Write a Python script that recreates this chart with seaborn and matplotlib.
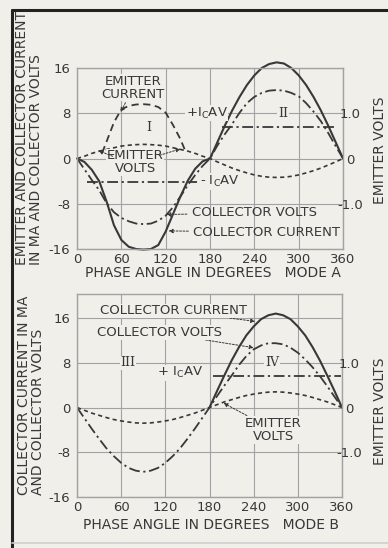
import seaborn as sns
import matplotlib.pyplot as plt
from matplotlib.lines import Line2D

# --- Phase angle samples (degrees) ---
phase = [0, 10, 20, 30, 40, 50, 60, 70, 80, 90, 100, 110, 120, 130, 140, 150, 160, 170, 180,
         190, 200, 210, 220, 230, 240, 250, 260, 270, 280, 290, 300, 310, 320, 330, 340, 350, 360]
phase_second_half = [180, 190, 200, 210, 220, 230, 240, 250, 260, 270, 280, 290, 300, 310, 320, 330, 340, 350, 360]

# --- Mode A ---
coll_current_a = [0, -0.6, -2.0, -4.0, -7.6, -11.8, -14.4, -15.6, -16.0, -16.1, -16.0, -15.3, -12.9, -9.8, -6.7, -3.9, -1.8, -0.5, 0,
                  2.9, 5.8, 8.5, 10.9, 13.0, 14.7, 16.0, 16.7, 17.0, 16.8, 16.0, 14.7, 13.0, 10.9, 8.5, 5.8, 2.9, 0]
coll_volts_a = [0, -1.9, -3.8, -5.6, -7.9, -9.5, -10.5, -11.1, -11.5, -11.6, -11.5, -11.0, -10.1, -8.6, -6.7, -4.7, -2.9, -1.3, 0,
                2.3, 4.3, 6.1, 8.1, 9.8, 10.9, 11.6, 12.0, 12.1, 12.0, 11.6, 11.0, 9.8, 8.3, 6.6, 4.5, 2.2, 0]
emit_volts_a = [0, 0.4, 0.9, 1.3, 1.6, 1.9, 2.2, 2.35, 2.45, 2.5, 2.45, 2.35, 2.2, 1.9, 1.6, 1.3, 0.9, 0.4, 0,
                -0.6, -1.15, -1.7, -2.15, -2.55, -2.9, -3.15, -3.3, -3.35, -3.3, -3.15, -2.9, -2.55, -2.15, -1.7, -1.15, -0.6, 0]
emit_current_phase_a = [34, 40, 50, 60, 70, 80, 90, 100, 110, 120, 130, 140, 147]
emit_current_a = [1.0, 3.0, 6.4, 8.7, 9.3, 9.55, 9.6, 9.5, 9.1, 8.1, 5.9, 3.4, 1.2]
ic_av_pos_span_a = [196, 352]
ic_av_pos_a = 5.6
ic_av_neg_span_a = [13, 163]
ic_av_neg_a = -4.1

# --- Mode B ---
coll_current_b = [0, 2.9, 5.7, 8.4, 10.8, 12.9, 14.5, 15.8, 16.5, 16.8, 16.5, 15.8, 14.5, 12.9, 10.8, 8.4, 5.7, 2.9, 0]
coll_volts_b = [0, -1.9, -3.8, -5.6, -7.3, -8.7, -9.9, -10.8, -11.3, -11.5, -11.3, -10.8, -9.9, -8.7, -7.3, -5.6, -3.8, -1.9, 0,
                2.0, 3.9, 5.7, 7.6, 9.2, 10.4, 11.1, 11.5, 11.5, 11.3, 10.7, 9.8, 8.6, 7.2, 5.6, 3.8, 1.9, 0]
emit_volts_b = [0, -0.5, -1.0, -1.4, -1.8, -2.15, -2.4, -2.6, -2.75, -2.8, -2.75, -2.6, -2.4, -2.15, -1.8, -1.4, -1.0, -0.5, 0,
                0.5, 1.0, 1.4, 1.8, 2.15, 2.4, 2.6, 2.75, 2.8, 2.75, 2.6, 2.4, 2.15, 1.8, 1.4, 1.0, 0.5, 0]
ic_av_pos_span_b = [185, 358]
ic_av_pos_b = 5.6

# --- Axis ticks ---
x_ticks = [0, 60, 120, 180, 240, 300, 360]
y_ticks = [-16, -8, 0, 8, 16]
volt_ticks = [-1.0, 0, 1.0]
volt_tick_labels = ["-1.0", "0", "1.0"]

# --- Style ---
sns.set_theme(style="whitegrid")
plt.rcParams['font.family'] = ['DejaVu Sans']
bg = '#f0efea'
ink = '#383838'
grid_c = '#a2a2a2'
solid = dict(color=ink, lw=1.5)
dashdot = dict(color=ink, lw=1.3, linestyle=(0, (6, 2, 1.2, 2)))
dash_long = dict(color=ink, lw=1.3, linestyle=(0, (4, 2.5)))
dash_short = dict(color=ink, lw=1.2, linestyle=(0, (2.5, 2)))
txt_box = dict(facecolor=bg, edgecolor='none', pad=0.5)
arrow = dict(arrowstyle='-|>', color=ink, lw=0.7, ls=(0, (2, 1.5)), shrinkA=1, shrinkB=0, mutation_scale=6)

fig = plt.figure(figsize=(3.88, 5.48), dpi=100, facecolor=bg)
ax_a = fig.add_axes([0.1985, 0.5456, 0.6856, 0.3303])
ax_b = fig.add_axes([0.1985, 0.0931, 0.683, 0.3704])


def style_axes(ax, ylim):
    ax.set_facecolor(bg)
    ax.set_xlim(0, 360)
    ax.set_ylim(*ylim)
    ax.set_xticks(x_ticks)
    ax.set_yticks(y_ticks)
    ax.set_yticklabels([str(v) for v in y_ticks])
    ax.grid(True, color=grid_c, lw=0.8)
    for sp in ax.spines.values():
        sp.set_color(grid_c)
        sp.set_linewidth(1.0)
    ax.tick_params(length=0, labelsize=9.5, colors=ink)
    ax.tick_params(axis='x', pad=3)
    ax.tick_params(axis='y', pad=5)
    ax.set_xlabel('')
    ax.set_ylabel('')
    # right-hand emitter volts scale (8 units = 1.0 V)
    ax_r = ax.twinx()
    ax_r.set_ylim(ylim[0] / 8, ylim[1] / 8)
    ax_r.set_yticks(volt_ticks)
    ax_r.set_yticklabels(volt_tick_labels)
    ax_r.grid(False)
    ax_r.patch.set_visible(False)
    for sp in ax_r.spines.values():
        sp.set_visible(False)
    ax_r.tick_params(length=0, labelsize=9.5, colors=ink, pad=5)
    for lbl in ax_r.get_yticklabels():
        lbl.set_horizontalalignment('center')
    return ax_r


style_axes(ax_a, (-16, 16))
style_axes(ax_b, (-16, 20.3))

# --- Mode A curves ---
sns.lineplot(x=phase, y=coll_current_a, ax=ax_a, clip_on=False, **solid)
sns.lineplot(x=phase, y=coll_volts_a, ax=ax_a, **dashdot)
sns.lineplot(x=phase, y=emit_volts_a, ax=ax_a, **dash_short)
sns.lineplot(x=emit_current_phase_a, y=emit_current_a, ax=ax_a, **dash_long)
sns.lineplot(x=ic_av_pos_span_a, y=[ic_av_pos_a] * 2, ax=ax_a, **dashdot)
sns.lineplot(x=ic_av_neg_span_a, y=[ic_av_neg_a] * 2, ax=ax_a, **dashdot)

ax_a.annotate('EMITTER\nCURRENT', xy=(59, 8.2), xytext=(76, 12.5), fontsize=9.5, color=ink,
              ha='center', va='center', linespacing=1.0, bbox=txt_box, arrowprops=arrow)
ax_a.text(97, 5.5, 'I', family='DejaVu Serif', fontsize=9, color=ink, ha='center', va='center', bbox=txt_box)
ax_a.text(279, 8, 'II', family='DejaVu Serif', fontsize=9, color=ink, ha='center', va='center', bbox=txt_box)
ax_a.text(147, 8, r'+I$_\mathregular{C}$AV', fontsize=9.5, color=ink, ha='left', va='center', bbox=txt_box)
ax_a.text(166, ic_av_neg_a, r'- I$_\mathregular{C}$AV', fontsize=9.5, color=ink, ha='left', va='center', bbox=txt_box)
ax_a.text(79, -0.7, 'EMITTER\nVOLTS', fontsize=9.5, color=ink, ha='center', va='center', linespacing=1.0, bbox=txt_box)
ax_a.annotate('', xy=(29, 1.4), xytext=(50, 0.3), arrowprops=arrow)
ax_a.annotate('', xy=(140, 1.7), xytext=(110, 0.5), arrowprops=arrow)
ax_a.annotate('COLLECTOR VOLTS', xy=(121, -9.9), xytext=(155, -9.6), fontsize=9.5, color=ink,
              ha='left', va='center', arrowprops=arrow)
ax_a.annotate('COLLECTOR CURRENT', xy=(124, -12.8), xytext=(157, -13.0), fontsize=9.5, color=ink,
              ha='left', va='center', arrowprops=arrow)

# --- Mode B curves ---
sns.lineplot(x=phase_second_half, y=coll_current_b, ax=ax_b, **solid)
sns.lineplot(x=phase, y=coll_volts_b, ax=ax_b, **dashdot)
sns.lineplot(x=phase, y=emit_volts_b, ax=ax_b, **dash_short)
sns.lineplot(x=ic_av_pos_span_b, y=[ic_av_pos_b] * 2, ax=ax_b, **dashdot)

ax_b.annotate('COLLECTOR CURRENT', xy=(242, 15.4), xytext=(31, 17.3), fontsize=9.5, color=ink,
              ha='left', va='center', bbox=txt_box, arrowprops=arrow)
ax_b.annotate('COLLECTOR VOLTS', xy=(240, 10.7), xytext=(27, 13.4), fontsize=9.5, color=ink,
              ha='left', va='center', bbox=txt_box, arrowprops=arrow)
ax_b.text(69, 8, 'III', family='DejaVu Serif', fontsize=9, color=ink, ha='center', va='center', bbox=txt_box)
ax_b.text(265, 8, 'IV', family='DejaVu Serif', fontsize=9, color=ink, ha='center', va='center', bbox=txt_box)
ax_b.text(109, 6.2, r'+ I$_\mathregular{C}$AV', fontsize=9.5, color=ink, ha='left', va='center', bbox=txt_box)
ax_b.annotate('EMITTER\nVOLTS', xy=(199, 0.8), xytext=(267, -4.0), fontsize=9.5, color=ink,
              ha='center', va='center', linespacing=1.0, bbox=txt_box, arrowprops=arrow)

# --- Axis titles ---
fig.text(22 / 388, 1 - 265 / 548, 'EMITTER AND COLLECTOR CURRENT', rotation=90, ha='center', va='bottom',
         fontsize=10, color=ink)
fig.text(36 / 388, 1 - 265 / 548, 'IN MA AND COLLECTOR VOLTS', rotation=90, ha='center', va='bottom',
         fontsize=10, color=ink)
fig.text(380 / 388, 1 - 150 / 548, 'EMITTER VOLTS', rotation=90, ha='center', va='center', fontsize=10, color=ink)
fig.text(213 / 388, 1 - 273 / 548, 'PHASE ANGLE IN DEGREES   MODE A', ha='center', va='center',
         fontsize=10, color=ink)

fig.text(24 / 388, 1 - 495 / 548, 'COLLECTOR CURRENT IN MA', rotation=90, ha='center', va='bottom',
         fontsize=10, color=ink)
fig.text(38 / 388, 1 - 495 / 548, 'AND COLLECTOR VOLTS', rotation=90, ha='center', va='bottom',
         fontsize=10, color=ink)
fig.text(380 / 388, 1 - 411 / 548, 'EMITTER VOLTS', rotation=90, ha='center', va='center', fontsize=10, color=ink)
fig.text(211 / 388, 1 - 525 / 548, 'PHASE ANGLE IN DEGREES   MODE B', ha='center', va='center',
         fontsize=10, color=ink)

# --- page frame of the scan ---
fig.add_artist(Line2D([12 / 388, 1], [1 - 10 / 548, 1 - 10 / 548], color='#222222', lw=2.2))
fig.add_artist(Line2D([12 / 388, 12 / 388], [0, 1 - 10 / 548], color='#222222', lw=2.2))
fig.add_artist(Line2D([12 / 388, 1], [5 / 548, 5 / 548], color='#cfcfcf', lw=1.2))

fig.savefig('out.png', dpi=100, facecolor=bg)
